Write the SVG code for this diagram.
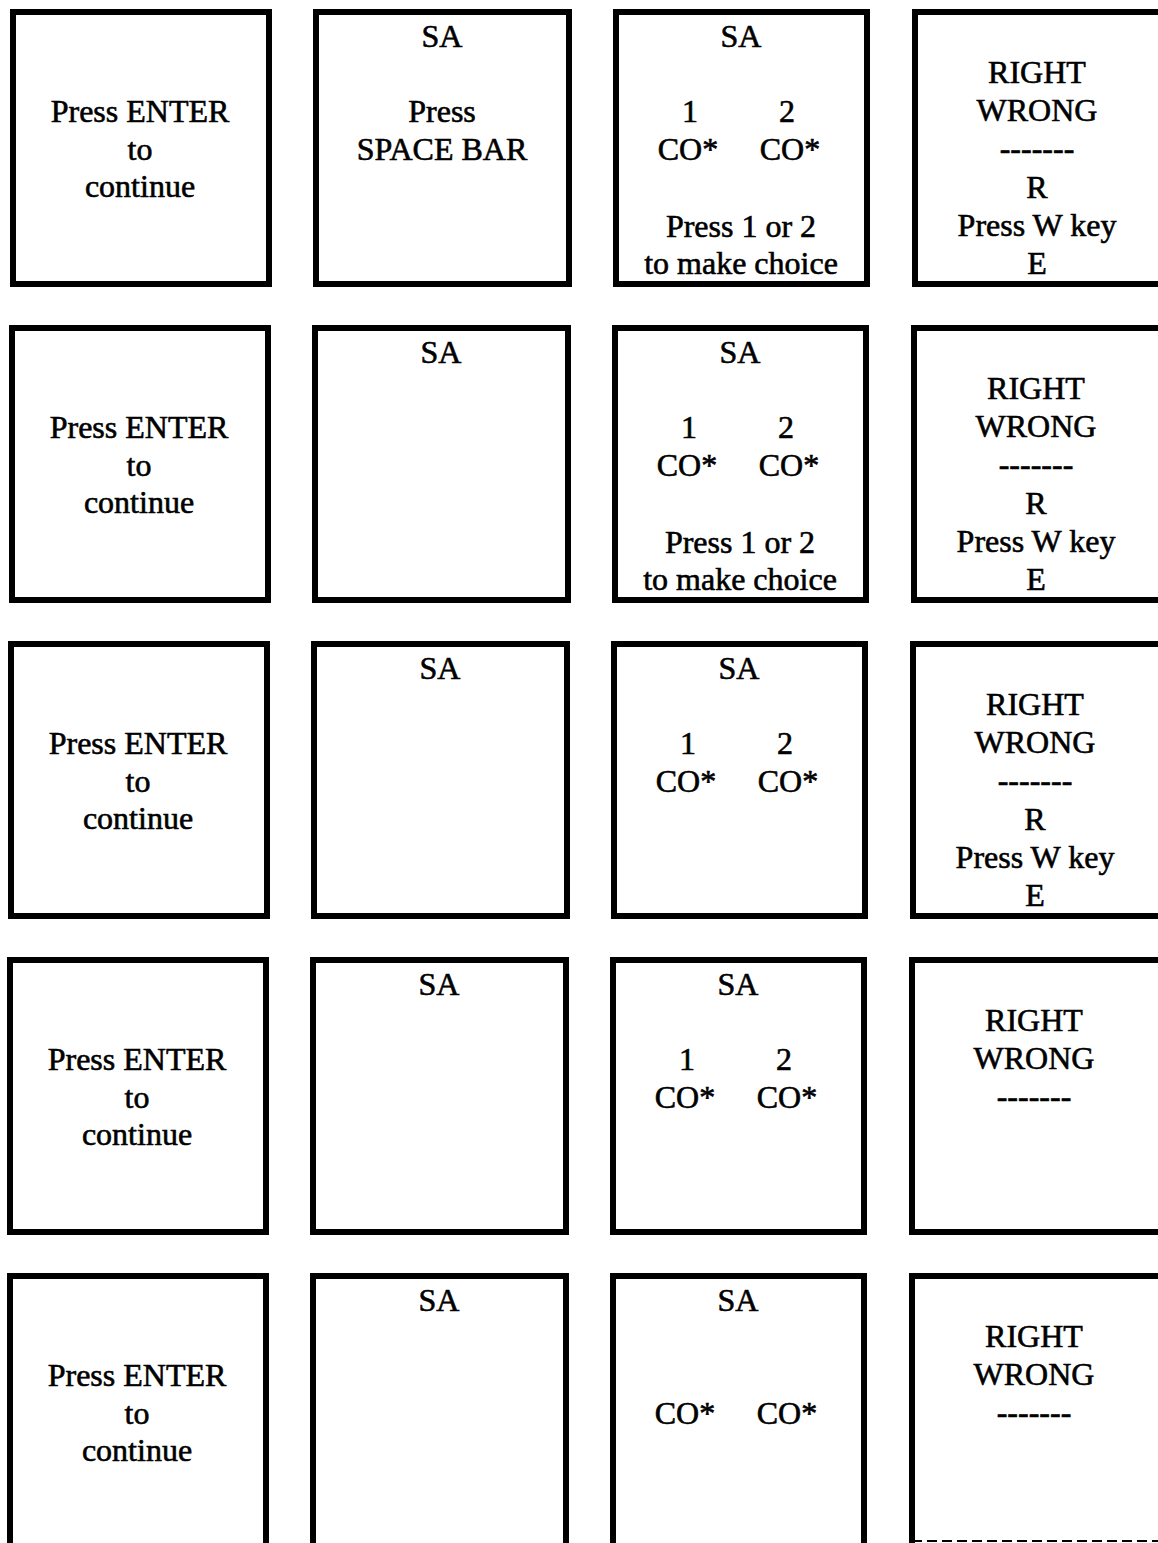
<svg xmlns="http://www.w3.org/2000/svg" width="1158" height="1543" viewBox="0 0 1158 1543">
<style>
.box{fill:#fff;stroke:#000;stroke-width:6}
.edge{fill:none;stroke:#000;stroke-width:2;stroke-dasharray:10 5}
text{font-family:"Liberation Serif","Times New Roman",serif;font-size:32px;fill:#000;stroke:#000;stroke-width:0.6;text-anchor:middle}
</style>
<rect width="1158" height="1543" fill="#fff"/>
<!-- Row 1 -->
<g id="r1c1"><rect class="box" x="13" y="12" width="256" height="272"/><text x="140" y="122">Press ENTER</text><text x="140" y="160">to</text><text x="140" y="197">continue</text></g>
<g id="r1c2"><rect class="box" x="316" y="12" width="253" height="272"/><text x="442" y="47">SA</text><text x="442" y="122">Press</text><text x="442" y="160">SPACE BAR</text></g>
<g id="r1c3"><rect class="box" x="616" y="12" width="251" height="272"/><text x="741" y="47">SA</text><text x="690" y="122">1</text><text x="787" y="122">2</text><text x="688" y="160">CO*</text><text x="790" y="160">CO*</text><text x="741" y="237">Press 1 or 2</text><text x="741" y="274">to make choice</text></g>
<g id="r1c4"><rect class="box" x="915" y="12" width="300" height="272"/><text x="1037" y="83">RIGHT</text><text x="1037" y="121">WRONG</text><text x="1037" y="159">-------</text><text x="1037" y="198">R</text><text x="1037" y="236">Press W key</text><text x="1037" y="274">E</text></g>
<!-- Row 2 -->
<g transform="translate(-1,316)">
<g id="r2c1"><rect class="box" x="13" y="12" width="256" height="272"/><text x="140" y="122">Press ENTER</text><text x="140" y="160">to</text><text x="140" y="197">continue</text></g>
<g id="r2c2"><rect class="box" x="316" y="12" width="253" height="272"/><text x="442" y="47">SA</text></g>
<g id="r2c3"><rect class="box" x="616" y="12" width="251" height="272"/><text x="741" y="47">SA</text><text x="690" y="122">1</text><text x="787" y="122">2</text><text x="688" y="160">CO*</text><text x="790" y="160">CO*</text><text x="741" y="237">Press 1 or 2</text><text x="741" y="274">to make choice</text></g>
<g id="r2c4"><rect class="box" x="915" y="12" width="300" height="272"/><text x="1037" y="83">RIGHT</text><text x="1037" y="121">WRONG</text><text x="1037" y="159">-------</text><text x="1037" y="198">R</text><text x="1037" y="236">Press W key</text><text x="1037" y="274">E</text></g>
</g>
<!-- Row 3 -->
<g transform="translate(-2,632)">
<g id="r3c1"><rect class="box" x="13" y="12" width="256" height="272"/><text x="140" y="122">Press ENTER</text><text x="140" y="160">to</text><text x="140" y="197">continue</text></g>
<g id="r3c2"><rect class="box" x="316" y="12" width="253" height="272"/><text x="442" y="47">SA</text></g>
<g id="r3c3"><rect class="box" x="616" y="12" width="251" height="272"/><text x="741" y="47">SA</text><text x="690" y="122">1</text><text x="787" y="122">2</text><text x="688" y="160">CO*</text><text x="790" y="160">CO*</text></g>
<g id="r3c4"><rect class="box" x="915" y="12" width="300" height="272"/><text x="1037" y="83">RIGHT</text><text x="1037" y="121">WRONG</text><text x="1037" y="159">-------</text><text x="1037" y="198">R</text><text x="1037" y="236">Press W key</text><text x="1037" y="274">E</text></g>
</g>
<!-- Row 4 -->
<g transform="translate(-3,948)">
<g id="r4c1"><rect class="box" x="13" y="12" width="256" height="272"/><text x="140" y="122">Press ENTER</text><text x="140" y="160">to</text><text x="140" y="197">continue</text></g>
<g id="r4c2"><rect class="box" x="316" y="12" width="253" height="272"/><text x="442" y="47">SA</text></g>
<g id="r4c3"><rect class="box" x="616" y="12" width="251" height="272"/><text x="741" y="47">SA</text><text x="690" y="122">1</text><text x="787" y="122">2</text><text x="688" y="160">CO*</text><text x="790" y="160">CO*</text></g>
<g id="r4c4"><rect class="box" x="915" y="12" width="300" height="272"/><text x="1037" y="83">RIGHT</text><text x="1037" y="121">WRONG</text><text x="1037" y="159">-------</text></g>
</g>
<!-- Row 5 -->
<g transform="translate(-3,1264)">
<g id="r5c1"><rect class="box" x="13" y="12" width="256" height="272"/><text x="140" y="122">Press ENTER</text><text x="140" y="160">to</text><text x="140" y="197">continue</text></g>
<g id="r5c2"><rect class="box" x="316" y="12" width="253" height="272"/><text x="442" y="47">SA</text></g>
<g id="r5c3"><rect class="box" x="616" y="12" width="251" height="272"/><text x="741" y="47">SA</text><text x="688" y="160">CO*</text><text x="790" y="160">CO*</text></g>
<g id="r5c4"><rect class="box" x="915" y="12" width="300" height="272"/><text x="1037" y="83">RIGHT</text><text x="1037" y="121">WRONG</text><text x="1037" y="159">-------</text><line class="edge" x1="915" y1="277" x2="1161" y2="277"/></g>
</g>
</svg>
